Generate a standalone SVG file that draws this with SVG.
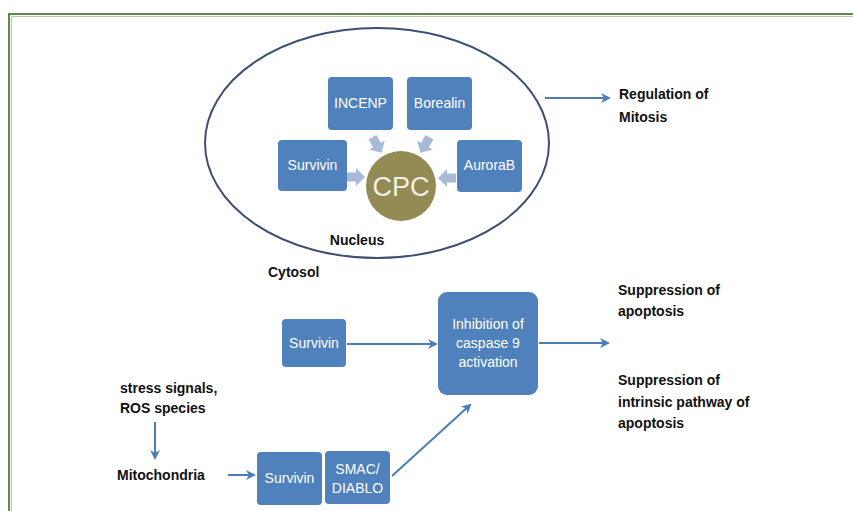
<svg xmlns="http://www.w3.org/2000/svg" width="853" height="511" viewBox="0 0 853 511">
<style>
.box{fill:#4f81bd;}
.bt{font-family:"Liberation Sans",Arial,sans-serif;font-size:14px;fill:#ffffff;text-anchor:middle;}
.lab{font-family:"Liberation Sans",Arial,sans-serif;font-size:14px;font-weight:bold;fill:#111111;}
.conn{stroke:#4a7ebb;stroke-width:2;fill:none;}
.blk{fill:#a8bad8;}
</style>
<defs>
<marker id="ah" viewBox="0 0 10 10" refX="8" refY="5" markerWidth="5" markerHeight="5" orient="auto">
<path d="M0,0 L10,5 L0,10 L3,5 Z" fill="#4a7ebb"/>
</marker>
<path id="ba" d="M-9,-4.5 L0,-4.5 L0,-9 L9,0 L0,9 L0,4.5 L-9,4.5 Z"/>
</defs>
<rect x="0" y="0" width="853" height="511" fill="#ffffff"/>
<g id="frame">
<path d="M9,520 L9,14 L860,14" fill="none" stroke="#5f8a4a" stroke-width="2"/>
<path d="M11.5,520 L11.5,16.5 L860,16.5" fill="none" stroke="#b9c9ae" stroke-width="1"/>
</g>
<g id="nucleus">
<ellipse cx="377" cy="143" rx="172" ry="115" fill="none" stroke="#3d4f72" stroke-width="2"/>
<text class="lab" x="357" y="245" text-anchor="middle">Nucleus</text>
</g>
<g id="cytosol"><text class="lab" x="268" y="277">Cytosol</text></g>
<g id="incenp"><rect class="box" x="328" y="77" width="65" height="53" rx="4"/><text class="bt" x="360.5" y="108">INCENP</text></g>
<g id="borealin"><rect class="box" x="407" y="77" width="65" height="53" rx="4"/><text class="bt" x="439.5" y="108">Borealin</text></g>
<g id="survivin1"><rect class="box" x="278" y="140" width="69" height="51" rx="4"/><text class="bt" x="312.5" y="170">Survivin</text></g>
<g id="aurorab"><rect class="box" x="457" y="140" width="65" height="52" rx="4"/><text class="bt" x="489.5" y="170">AuroraB</text></g>
<g id="cpc"><circle cx="401" cy="186" r="35" fill="#948a54"/><text x="401" y="196" font-family="'Liberation Sans',Arial,sans-serif" font-size="27" fill="#f2efe4" text-anchor="middle">CPC</text></g>
<g id="survivin2"><rect class="box" x="282" y="319" width="64" height="48" rx="4"/><text class="bt" x="314" y="348">Survivin</text></g>
<g id="inhibition"><rect class="box" x="438" y="292" width="100" height="103" rx="9"/>
<text class="bt" x="488" y="329">Inhibition of</text><text class="bt" x="488" y="348">caspase 9</text><text class="bt" x="488" y="367">activation</text></g>
<g id="survivin3"><rect class="box" x="257" y="452" width="65" height="53" rx="4"/><text class="bt" x="289.5" y="483">Survivin</text></g>
<g id="smac"><rect class="box" x="325" y="451" width="65" height="53" rx="4"/><text class="bt" x="357.5" y="474">SMAC/</text><text class="bt" x="357.5" y="493">DIABLO</text></g>
<g id="labels">
<text class="lab" x="619" y="99">Regulation of</text><text class="lab" x="619" y="122">Mitosis</text>
<text class="lab" x="618" y="295">Suppression of</text><text class="lab" x="618" y="316">apoptosis</text>
<text class="lab" x="618" y="385">Suppression of</text><text class="lab" x="618" y="407">intrinsic pathway of</text><text class="lab" x="618" y="428">apoptosis</text>
<text class="lab" x="120" y="393">stress signals,</text><text class="lab" x="120" y="413">ROS species</text>
<text class="lab" x="117" y="480">Mitochondria</text>
</g>
<g id="connectors">
<use href="#ba" class="blk" transform="translate(356,177)"/>
<use href="#ba" class="blk" transform="translate(447,178) rotate(180)"/>
<use href="#ba" class="blk" transform="translate(377,145) rotate(60)"/>
<use href="#ba" class="blk" transform="translate(425,145) rotate(120)"/>
<line class="conn" x1="545" y1="98" x2="609" y2="98" marker-end="url(#ah)"/>
<line class="conn" x1="347" y1="344" x2="436" y2="344" marker-end="url(#ah)"/>
<line class="conn" x1="539" y1="343" x2="608" y2="343" marker-end="url(#ah)"/>
<line class="conn" x1="155" y1="422" x2="155" y2="458" marker-end="url(#ah)"/>
<line class="conn" x1="228" y1="475" x2="254" y2="475" marker-end="url(#ah)"/>
<line class="conn" x1="392" y1="476" x2="470" y2="405" marker-end="url(#ah)"/>
</g>
</svg>
